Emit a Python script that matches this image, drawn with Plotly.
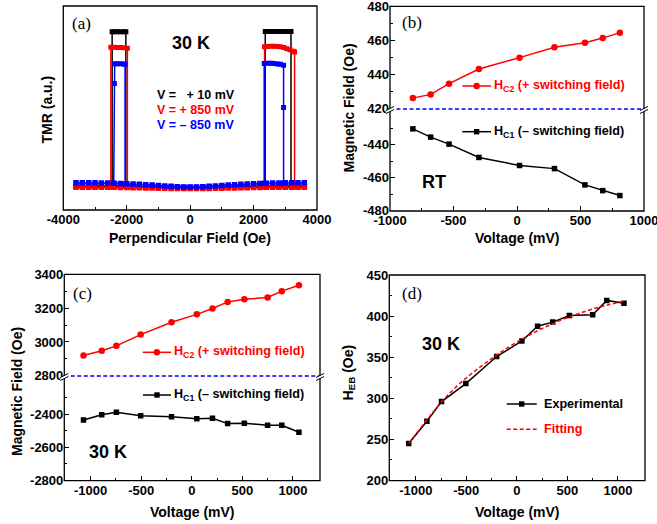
import plotly.graph_objects as go

W, H = 657, 524

# ---------------- data ----------------
# (a) TMR loops at 30 K (arbitrary units)
FIELD_GRID = [-3600, -3400, -3200, -3000, -2800, -2600, -2400, -2200, -2000,
              -1800, -1600, -1400, -1200, -1000, -800, -600, -400, -200, 0,
              200, 400, 600, 800, 1000, 1200, 1400, 1600, 1800, 2000,
              2200, 2400, 2600, 2800, 3000, 3200, 3400, 3600]
BASE_P10 = [11.8, 11.8, 11.8, 11.7, 11.7, 11.7, 11.6, 11.6, 11.5, 11.5,
            11.4, 11.3, 11.3, 11.2, 11.1, 11.1, 11.0, 11.0, 11.0,
            11.0, 11.0, 11.1, 11.1, 11.2, 11.3, 11.3, 11.4, 11.5, 11.5,
            11.6, 11.6, 11.7, 11.7, 11.7, 11.8, 11.8, 11.8]
BASE_P850 = [11.2, 11.2, 11.2, 11.2, 11.1, 11.1, 11.1, 11.0, 11.0, 10.9,
             10.9, 10.8, 10.8, 10.7, 10.7, 10.6, 10.6, 10.6, 10.6,
             10.6, 10.6, 10.6, 10.7, 10.7, 10.8, 10.8, 10.9, 10.9, 11.0,
             11.0, 11.1, 11.1, 11.1, 11.2, 11.2, 11.2, 11.2]
BASE_M850 = [13.4, 13.4, 13.4, 13.3, 13.2, 13.2, 13.1, 13.0, 12.9, 12.8,
             12.6, 12.4, 12.2, 12.0, 11.8, 11.6, 11.4, 11.3, 11.3,
             11.3, 11.4, 11.6, 11.8, 12.0, 12.2, 12.4, 12.6, 12.8, 12.9,
             13.0, 13.1, 13.2, 13.2, 13.3, 13.3, 13.4, 13.4]

LOOP_H_P10 = [-2460, -2460, -2400, -2300, -2200, -2100, -2027, -2027, None,
              2368, 2368, 2450, 2550, 2650, 2750, 2850, 2950, 3050, 3180, 3180]
LOOP_T_P10 = [11.6, 87.4, 87.4, 87.4, 87.4, 87.4, 87.4, 11.5, None,
              11.6, 87.5, 87.5, 87.5, 87.5, 87.5, 87.5, 87.5, 87.5, 87.5, 11.7]
LOOP_H_P850 = [-2500, -2500, -2400, -2300, -2200, -2100, -1980, -1980, None,
               2346, 2346, 2450, 2550, 2650, 2750, 2850, 2950, 3050, 3150, 3250, 3293, 3293]
LOOP_T_P850 = [11.1, 79.8, 79.8, 79.7, 79.6, 79.5, 79.3, 11.0, None,
               11.1, 80.0, 80.2, 80.3, 80.3, 80.2, 80.0, 79.6, 79.1, 78.5, 77.8, 77.5, 11.2]
LOOP_H_M850 = [-2410, -2390, -2380, -2300, -2200, -2100, -2053, -2053, None,
               2337, 2337, 2450, 2550, 2650, 2750, 2850, 2946, 2946, 2946]
LOOP_T_M850 = [13.1, 62.0, 71.7, 71.7, 71.7, 71.6, 71.5, 12.9, None,
               13.1, 71.8, 71.9, 71.9, 71.8, 71.6, 71.4, 71.0, 50.2, 13.2]

# (b) switching fields at RT
V_RT = [-820, -680, -535, -300, 20, 295, 535, 675, 810]
HC2_RT = [426.2, 428.4, 434.7, 443.3, 450.0, 456.1, 458.8, 461.5, 464.7]
HC1_RT = [-430.3, -435.3, -439.6, -447.7, -452.6, -454.5, -464.4, -467.9, -470.9]

# (c) switching fields at 30 K
V_30K = [-1070, -890, -745, -505, -200, 50, 205, 355, 520, 750, 890, 1060]
HC2_30K = [2920, 2948, 2977, 3044, 3117, 3164, 3199, 3238, 3254, 3264, 3302, 3337]
HC1_30K = [-2436, -2404, -2390, -2410, -2416, -2428, -2426, -2458, -2456, -2468, -2468, -2510]

# (d) exchange bias at 30 K
HEB_30K = [245, 272, 296, 318, 351, 370, 388, 393, 401, 402, 419.5, 416]
V_FIT = [-1070, -900, -750, -600, -450, -300, -150, 0, 150, 300, 450, 600, 750, 900, 1060]
HEB_FIT = [245, 272, 295, 314, 330, 344, 357, 368.5, 379, 388, 396, 403, 409, 414, 418.5]

# tick values
TICKS_A_X = [-4000, -2000, 0, 2000, 4000]
TICKS_V_RT = [-1000, -500, 0, 500, 1000]
TICKS_V = [-1000, -500, 0, 500, 1000]
TICKS_B_UP = [420, 440, 460, 480]
TICKS_B_LO = [-480, -460, -440]
TICKS_C_UP = [2800, 3000, 3200, 3400]
TICKS_C_LO = [-2800, -2600, -2400]
TICKS_D_Y = [200, 250, 300, 350, 400, 450]

# ---------------- helpers ----------------
def fx(p):
    return p / W


def fy(p):
    return 1 - p / H


SANS = "Liberation Sans, Arial, sans-serif"
SERIF = "Liberation Serif, Times New Roman, serif"
RED = "#ff0000"
BLUE = "#0000ff"
BLK = "#000000"
TICKFONT = dict(family=SANS, size=13, color=BLK, weight="bold")
LW = 1.3

fig = go.Figure()

# (a) traces
for base, lh, lt, col in [(BASE_P10, LOOP_H_P10, LOOP_T_P10, BLK),
                          (BASE_P850, LOOP_H_P850, LOOP_T_P850, RED),
                          (BASE_M850, LOOP_H_M850, LOOP_T_M850, BLUE)]:
    fig.add_trace(go.Scatter(x=FIELD_GRID, y=base, mode="lines+markers",
                             line=dict(color=col, width=1.5),
                             marker=dict(symbol="square", size=5.5, color=col, line=dict(width=0)),
                             xaxis="x", yaxis="y", showlegend=False, hoverinfo="skip"))
    fig.add_trace(go.Scatter(x=lh, y=lt, mode="lines+markers",
                             line=dict(color=col, width=1.5),
                             marker=dict(symbol="square", size=5, color=col, line=dict(width=0)),
                             connectgaps=False,
                             xaxis="x", yaxis="y", showlegend=False, hoverinfo="skip"))

# (b) traces
fig.add_trace(go.Scatter(x=V_RT, y=HC2_RT, mode="lines+markers",
                         line=dict(color=RED, width=1.5),
                         marker=dict(symbol="circle", size=6.5, color=RED),
                         xaxis="x2", yaxis="y3", showlegend=False))
fig.add_trace(go.Scatter(x=V_RT, y=HC1_RT, mode="lines+markers",
                         line=dict(color=BLK, width=1.5),
                         marker=dict(symbol="square", size=5.5, color=BLK),
                         xaxis="x2", yaxis="y2", showlegend=False))

# (c) traces
fig.add_trace(go.Scatter(x=V_30K, y=HC2_30K, mode="lines+markers",
                         line=dict(color=RED, width=1.5),
                         marker=dict(symbol="circle", size=6.5, color=RED),
                         xaxis="x3", yaxis="y5", showlegend=False))
fig.add_trace(go.Scatter(x=V_30K, y=HC1_30K, mode="lines+markers",
                         line=dict(color=BLK, width=1.5),
                         marker=dict(symbol="square", size=5.5, color=BLK),
                         xaxis="x3", yaxis="y4", showlegend=False))

# (d) traces
fig.add_trace(go.Scatter(x=V_30K, y=HEB_30K, mode="lines+markers",
                         line=dict(color=BLK, width=1.5),
                         marker=dict(symbol="square", size=5.5, color=BLK),
                         xaxis="x4", yaxis="y6", showlegend=False))
fig.add_trace(go.Scatter(x=V_FIT, y=HEB_FIT, mode="lines", line_shape="spline",
                         line=dict(color=RED, width=1.5, dash="4px,2.5px"),
                         xaxis="x4", yaxis="y6", showlegend=False))


def labels(vals):
    return [str(v) for v in vals]   # plain hyphen-minus like the original


def xax(dom, rng, anchor, tickvals, minor_vals):
    return dict(domain=[fx(dom[0]), fx(dom[1])], range=rng, anchor=anchor,
                tickmode="array", tickvals=tickvals, ticktext=labels(tickvals),
                ticks="inside", ticklen=5, tickwidth=LW, tickcolor=BLK,
                minor=dict(tickmode="array", tickvals=minor_vals, ticks="inside",
                           ticklen=3, tickwidth=LW, tickcolor=BLK),
                showline=False, showgrid=False, zeroline=False, tickfont=TICKFONT,
                automargin=False, ticklabeloverflow="allow")


def yax(dom, rng, anchor, tickvals, minor_vals):
    return dict(domain=[fy(dom[1]), fy(dom[0])], range=rng, anchor=anchor,
                tickmode="array", tickvals=tickvals, ticktext=labels(tickvals),
                ticks="inside", ticklen=5, tickwidth=LW, tickcolor=BLK,
                minor=dict(tickmode="array", tickvals=minor_vals, ticks="inside",
                           ticklen=3, tickwidth=LW, tickcolor=BLK),
                showline=False, showgrid=False, zeroline=False, tickfont=TICKFONT,
                automargin=False, ticklabeloverflow="allow")


# panel boxes (pixel coords: left, top, right, bottom)
BOX_A = (63.3, 6, 317, 210)
BOX_B = (390, 6.3, 644, 211)
BOX_C = (64.3, 274.3, 320, 480.7)
BOX_D = (389.3, 275, 645, 480.7)
BREAK_B = 109
BREAK_C = 376

layout = dict(
    width=W, height=H, margin=dict(l=0, r=0, t=0, b=0, autoexpand=False),
    paper_bgcolor="white", plot_bgcolor="rgba(0,0,0,0)", showlegend=False,
    xaxis=xax((BOX_A[0], BOX_A[2]), [-4000, 4000], "y", TICKS_A_X, [-3000, -1000, 1000, 3000]),
    yaxis=dict(domain=[fy(BOX_A[3]), fy(BOX_A[1])], range=[0, 100], anchor="x",
               showticklabels=False, ticks="", showgrid=False, zeroline=False, showline=False,
               automargin=False),
    xaxis2=xax((BOX_B[0], BOX_B[2]), [-1000, 1000], "y2", TICKS_V_RT, [-750, -250, 250, 750]),
    yaxis2=yax((BREAK_B, BOX_B[3]), [-480.3, -418.2], "x2", TICKS_B_LO, [-470, -450, -430]),
    yaxis3=yax((BOX_B[1], BREAK_B), [419.8, 480.2], "x2", TICKS_B_UP, [430, 450, 470]),
    xaxis3=xax((BOX_C[0], BOX_C[2]), [-1260, 1268], "y4", TICKS_V, [-750, -250, 250, 750]),
    yaxis4=yax((BREAK_C, BOX_C[3]), [-2802, -2171], "x3", TICKS_C_LO, [-2700, -2500, -2300]),
    yaxis5=yax((BOX_C[1], BREAK_C), [2798, 3402], "x3", TICKS_C_UP, [2900, 3100, 3300]),
    xaxis4=xax((BOX_D[0], BOX_D[2]), [-1262, 1268], "y6", TICKS_V, [-750, -250, 250, 750]),
    yaxis6=yax((BOX_D[1], BOX_D[3]), [199.5, 450.5], "x4", TICKS_D_Y,
               [225, 275, 325, 375, 425]),
)
fig.update_layout(**layout)

shapes = []
for (x0, y0, x1, y1) in [BOX_A, BOX_B, BOX_C, BOX_D]:
    shapes.append(dict(type="rect", xref="paper", yref="paper",
                       x0=fx(x0), x1=fx(x1), y0=fy(y1), y1=fy(y0),
                       line=dict(color=BLK, width=LW), fillcolor="rgba(0,0,0,0)"))

# axis breaks
for (xl, xr, yb) in [(BOX_B[0], BOX_B[2], BREAK_B), (BOX_C[0], BOX_C[2], BREAK_C)]:
    shapes.append(dict(type="line", xref="paper", yref="paper",
                       x0=fx(xl), x1=fx(xr), y0=fy(yb), y1=fy(yb),
                       line=dict(color=BLUE, width=1.5, dash="4px,2.5px")))
    for xs in (xl, xr):
        path = "M {},{} L {},{} L {},{} L {},{} Z".format(
            fx(xs - 4), fy(yb + 1.5), fx(xs + 4), fy(yb - 2.5),
            fx(xs + 4), fy(yb + 0.5), fx(xs - 4), fy(yb + 4.5))
        shapes.append(dict(type="path", xref="paper", yref="paper", path=path,
                           fillcolor="white", line=dict(width=0)))
        for off in (0, 3):
            shapes.append(dict(type="line", xref="paper", yref="paper",
                               x0=fx(xs - 4), y0=fy(yb + 1.5 + off),
                               x1=fx(xs + 4), y1=fy(yb - 2.5 + off),
                               line=dict(color=BLK, width=1)))


def legend_sample(x0, x1, y, col, symbol, dash=None):
    ln = dict(color=col, width=1.5)
    if dash:
        ln["dash"] = dash
    shapes.append(dict(type="line", xref="paper", yref="paper",
                       x0=fx(x0), x1=fx(x1), y0=fy(y), y1=fy(y), line=ln))
    xm = (x0 + x1) / 2
    if symbol == "circle":
        r = 3.2
        shapes.append(dict(type="circle", xref="paper", yref="paper",
                           x0=fx(xm - r), x1=fx(xm + r), y0=fy(y + r), y1=fy(y - r),
                           fillcolor=col, line=dict(width=0)))
    elif symbol == "square":
        r = 2.7
        shapes.append(dict(type="rect", xref="paper", yref="paper",
                           x0=fx(xm - r), x1=fx(xm + r), y0=fy(y + r), y1=fy(y - r),
                           fillcolor=col, line=dict(width=0)))


legend_sample(462.3, 491, 86, RED, "circle")
legend_sample(462.3, 491, 131.7, BLK, "square")
legend_sample(142.7, 171, 352.3, RED, "circle")
legend_sample(143, 171, 395, BLK, "square")
legend_sample(506.7, 536.7, 404, BLK, "square")
legend_sample(506.7, 536.7, 429.3, RED, None, dash="4px,2.5px")

fig.update_layout(shapes=shapes)

ann = []


def text(x, y, s, size=13, color=BLK, bold=True, family=SANS, xanchor="center", angle=0):
    ann.append(dict(x=fx(x), y=fy(y), xref="paper", yref="paper", text=s,
                    showarrow=False, xanchor=xanchor, yanchor="middle", textangle=angle,
                    font=dict(family=family, size=size, color=color,
                              weight="bold" if bold else "normal")))


NB = "\u00a0"
LEG = 12.6
# panel (a)
text(69.5, 24, "(a)", size=17, bold=False, family=SERIF, xanchor="left")
text(191, 43.5, "30 K", size=18)
text(155, 94.5, "V =" + NB + NB + " + 10 mV", size=12.5, xanchor="left")
text(155, 110, "V = + 850 mV", size=12.5, color=RED, xanchor="left")
text(155, 125.5, "V = \u2013 850 mV", size=12.5, color=BLUE, xanchor="left")
text(46.5, 110, "TMR (a.u.)", size=14, angle=-90)
text(190, 238, "Perpendicular Field (Oe)", size=14)

# panel (b)
text(399.5, 23, "(b)", size=17, bold=False, family=SERIF, xanchor="left")
text(433.5, 181.5, "RT", size=18)
text(492, 86, "H<sub>C2</sub> (+ switching field)", size=LEG, color=RED, xanchor="left")
text(492, 131.7, "H<sub>C1</sub> (\u2013 switching field)", size=LEG, xanchor="left")
text(348.5, 108, "Magnetic Field (Oe)", size=14, angle=-90)
text(517, 238, "Voltage (mV)", size=14)

# panel (c)
text(70.5, 293.5, "(c)", size=17, bold=False, family=SERIF, xanchor="left")
text(108, 451.5, "30 K", size=18)
text(172, 352.3, "H<sub>C2</sub> (+ switching field)", size=LEG, color=RED, xanchor="left")
text(172, 395, "H<sub>C1</sub> (\u2013 switching field)", size=LEG, xanchor="left")
text(17, 392, "Magnetic Field (Oe)", size=14, angle=-90)
text(192, 511.5, "Voltage (mV)", size=14)

# panel (d)
text(399.5, 293.5, "(d)", size=17, bold=False, family=SERIF, xanchor="left")
text(440.5, 343.5, "30 K", size=18)
text(542, 404, "Experimental", size=LEG, xanchor="left")
text(542, 429.3, "Fitting", size=LEG, color=RED, xanchor="left")
text(348.5, 373, "H<sub>EB</sub> (Oe)", size=14, angle=-90)
text(517, 511.5, "Voltage (mV)", size=14)

fig.update_layout(annotations=ann)

fig.write_html(
    "out.html",
    config={"displayModeBar": False},
    post_script="document.body.style.margin='0';document.body.style.padding='0';"
                "document.documentElement.style.overflow='hidden';",
)
